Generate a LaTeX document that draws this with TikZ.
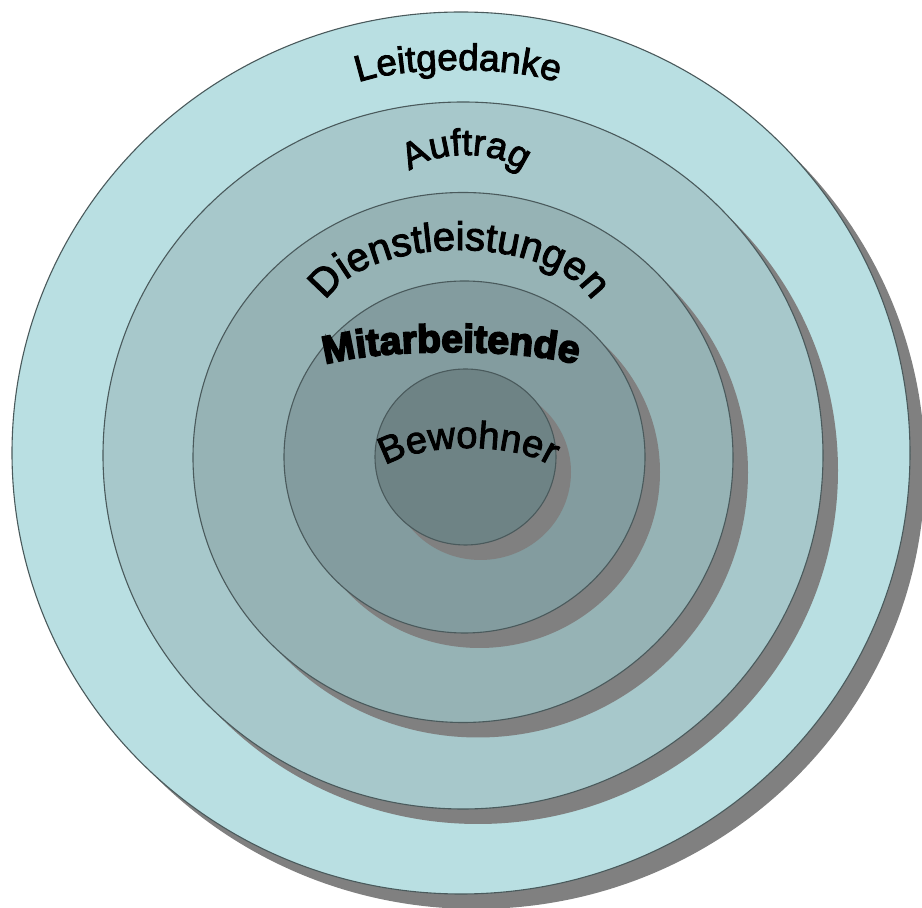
\documentclass[tikz,border=0pt]{standalone}
\usepackage{fontspec}
\usepackage{tikz}
\usetikzlibrary{decorations.text}
\setmainfont{Liberation Sans}
\newfontfamily\wordart[FakeBold=2.5]{Liberation Sans}
\newfontfamily\wordartheavy[FakeBold=4.5]{Liberation Sans Bold}
\definecolor{powderblue}{RGB}{185,223,226}
\definecolor{ashblue}{RGB}{167,200,203}
\definecolor{cadetgrey}{RGB}{150,179,181}
\definecolor{slateteal}{RGB}{131,156,159}
\definecolor{deepslate}{RGB}{110,131,133}
\definecolor{darkslate}{RGB}{74,90,92}
\newcommand\rotulofont[1]{\fontsize{#1}{#1}\selectfont}
\tikzset{
  anillo/.style={
    draw=darkslate,
    line width=1.1pt
  },
  sombra/.style={
    fill=black!50
  },
  rotulo/.style={
    decorate,
    decoration={text along path, text align=center, text={#1}}
  }
}

\begin{document}
\begin{tikzpicture}[x=1pt,y=1pt]
\useasboundingbox (0,0) rectangle (922,908);
\clip (0,0) rectangle (922,908);
% anillos, de fuera a dentro, cada uno con su sombra
\foreach \cx/\cy/\rx/\ry/\col in {461/455/449/441/powderblue,
    463/452.5/360/353.5/ashblue, 463/450.5/270/265/cadetgrey,
    464.5/451/180.5/176/slateteal, 465.5/451/90.5/88/deepslate} {
  \fill[sombra] (\cx+15,\cy-15) ellipse [x radius=\rx, y radius=\ry];
  \filldraw[anillo, fill=\col] (\cx,\cy) ellipse [x radius=\rx, y radius=\ry];
}
% rotulos en arco
\path[rotulo={|\wordart\rotulofont{37}|Leitgedanke}]
  (343,813) arc [start angle=180, end angle=0, x radius=115, y radius=25];
\path[rotulo={|\wordart\rotulofont{37}|Auftrag}]
  (402,721) arc [start angle=180, end angle=0, x radius=64, y radius=32];
\path[rotulo={|\wordart\rotulofont{40}|Dienstleistungen}]
  (321,588) arc [start angle=180, end angle=0, x radius=138, y radius=70];
\path[rotulo={|\wordartheavy\rotulofont{39}|Mitarbeitende}]
  (306,531) arc [start angle=180, end angle=0, x radius=145, y radius=25];
\path[rotulo={|\wordart\rotulofont{38}|Bewohner}]
  (376,428) arc [start angle=180, end angle=0, x radius=92, y radius=32];
\end{tikzpicture}
\end{document}
